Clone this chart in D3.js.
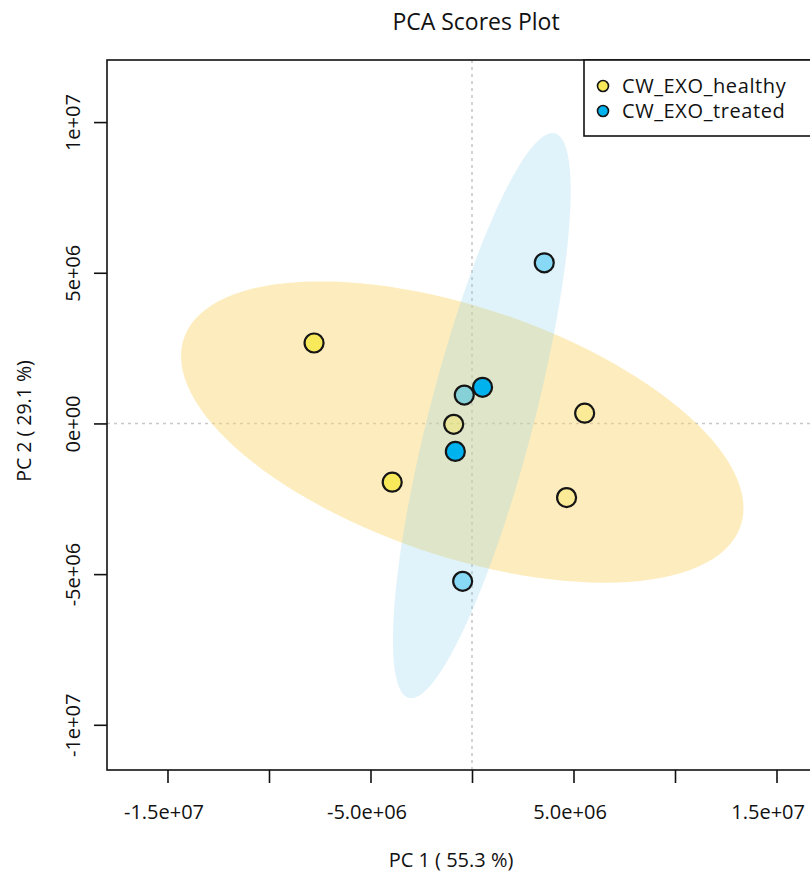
<!DOCTYPE html>
<html>
  <head>
    <meta charset="utf-8">
    <script src="https://cdn.jsdelivr.net/npm/d3@7"></script>
    <style>
      body { margin: 0; background: #fff; }
      text { font-family: "Open Sans", sans-serif; fill: #111; }
    </style>
  </head>
  <body>
    <script>
    // scores
    var groups = ["CW_EXO_healthy", "CW_EXO_treated"];
    var healthyPC1 = [-7.78e6, -3.93e6, -0.90e6, 5.55e6, 4.66e6];
    var healthyPC2 = [2.67e6, -1.95e6, -0.03e6, 0.34e6, -2.46e6];
    var treatedPC1 = [3.56e6, -0.46e6, -0.38e6, 0.52e6, -0.82e6];
    var treatedPC2 = [5.33e6, -5.24e6, 0.94e6, 1.20e6, -0.93e6];
    // some points are drawn solid, the rest with a see-through fill
    var healthySolid = [true, true, false, false, false];
    var treatedSolid = [false, false, false, true, true];

    var xTicks = [-1.5e7, -1e7, -5e6, 0, 5e6, 1e7, 1.5e7];
    var xTickLabels = ["-1.5e+07", "", "-5.0e+06", "", "5.0e+06", "", "1.5e+07"];
    var yTicks = [-1e7, -5e6, 0, 5e6, 1e7];
    var yTickLabels = ["-1e+07", "-5e+06", "0e+00", "5e+06", "1e+07"];
    var xDomain = [-1.798e7, 1.798e7];
    var yDomain = [-1.15e7, 1.206e7];
    var axisTitles = ["PC 1 ( 55.3 %)", "PC 2 ( 29.1 %)"];
    var title = "PCA Scores Plot";

    var width = 810, height = 872;
    var box = {left: 107, right: 837, top: 60, bottom: 770};
    var pointColors = ["#f8e95a", "#00b2ee"];
    var ellipseColors = ["#fbd66f", "#87ceeb"];
    var ellipseOpacity = [0.45, 0.25];

    var svg = d3.select("body").append("svg")
      .attr("width", width)
      .attr("height", height);

    var x = d3.scaleLinear().domain(xDomain).range([box.left, box.right]);
    var y = d3.scaleLinear().domain(yDomain).range([box.bottom, box.top]);

    svg.append("clipPath").attr("id", "plot-clip")
      .append("rect")
      .attr("x", box.left).attr("y", box.top)
      .attr("width", box.right - box.left).attr("height", box.bottom - box.top);

    var plot = svg.append("g").attr("clip-path", "url(#plot-clip)");

    var data = [
      {name: groups[0], xs: healthyPC1, ys: healthyPC2, solid: healthySolid, i: 0},
      {name: groups[1], xs: treatedPC1, ys: treatedPC2, solid: treatedSolid, i: 1}
    ];

    // 95% confidence ellipse, same construction as R's ellipse::ellipse
    function ellipsePoints(xs, ys) {
      var mx = d3.mean(xs), my = d3.mean(ys);
      var sx = d3.deviation(xs), sy = d3.deviation(ys);
      var cov = d3.sum(xs, function(v, k) { return (v - mx) * (ys[k] - my); }) / (xs.length - 1);
      var r = cov / (sx * sy);
      var d = Math.acos(r);
      var t = Math.sqrt(5.991465);
      return d3.range(120).map(function(k) {
        var a = k * 2 * Math.PI / 120;
        return [mx + t * sx * Math.cos(a + d / 2), my + t * sy * Math.cos(a - d / 2)];
      });
    }

    // zero lines
    plot.append("line")
      .attr("x1", x(0)).attr("x2", x(0))
      .attr("y1", box.top).attr("y2", box.bottom)
      .attr("stroke", "#c8c8c8").attr("stroke-width", 1.6)
      .attr("stroke-dasharray", "3,4");
    plot.append("line")
      .attr("x1", box.left).attr("x2", box.right)
      .attr("y1", y(0)).attr("y2", y(0))
      .attr("stroke", "#c8c8c8").attr("stroke-width", 1.6)
      .attr("stroke-dasharray", "3,4");

    var line = d3.line()
      .x(function(d) { return x(d[0]); })
      .y(function(d) { return y(d[1]); })
      .curve(d3.curveLinearClosed);

    plot.selectAll(".ellipse")
      .data(data)
      .enter()
      .append("path")
        .attr("class", "ellipse")
        .attr("d", function(g) { return line(ellipsePoints(g.xs, g.ys)); })
        .attr("fill", function(g) { return ellipseColors[g.i]; })
        .attr("fill-opacity", function(g) { return ellipseOpacity[g.i]; })
        .attr("stroke", "none");

    var pts = [];
    data.forEach(function(g) {
      g.xs.forEach(function(v, k) {
        pts.push({x: v, y: g.ys[k], i: g.i, solid: g.solid[k]});
      });
    });

    plot.selectAll(".pt")
      .data(pts)
      .enter()
      .append("circle")
        .attr("class", "pt")
        .attr("cx", function(d) { return x(d.x); })
        .attr("cy", function(d) { return y(d.y); })
        .attr("r", 9.5)
        .attr("fill", function(d) { return pointColors[d.i]; })
        .attr("fill-opacity", function(d) { return d.solid ? 1 : 0.4; })
        .attr("stroke", "#151515")
        .attr("stroke-width", 2.2);

    // frame
    svg.append("rect")
      .attr("x", box.left).attr("y", box.top)
      .attr("width", box.right - box.left).attr("height", box.bottom - box.top)
      .attr("fill", "none").attr("stroke", "#111").attr("stroke-width", 1.6);

    // axes
    var xAxis = d3.axisBottom(x)
      .tickValues(xTicks)
      .tickSize(13).tickSizeOuter(0).tickPadding(22)
      .tickFormat(function(d, k) { return xTickLabels[k]; });
    var gx = svg.append("g")
      .attr("transform", "translate(0," + box.bottom + ")")
      .call(xAxis);
    gx.select(".domain").remove();
    gx.selectAll("line").attr("stroke", "#111").attr("stroke-width", 1.6);
    gx.selectAll("text")
      .attr("font-size", "20px").attr("font-family", "Open Sans, sans-serif").attr("fill", "#111")
      .attr("dx", -4);
    // keep the last label inside the page
    gx.selectAll(".tick").each(function() {
      var t = d3.select(this).select("text");
      var b = t.node().getBoundingClientRect();
      if (b.right > width - 5) t.attr("dx", -4 - (b.right - (width - 5)));
    });

    var yAxis = d3.axisLeft(y)
      .tickValues(yTicks)
      .tickSize(13).tickSizeOuter(0)
      .tickFormat(function(d, k) { return yTickLabels[k]; });
    var gy = svg.append("g")
      .attr("transform", "translate(" + box.left + ",0)")
      .call(yAxis);
    gy.select(".domain").remove();
    gy.selectAll("line").attr("stroke", "#111").attr("stroke-width", 1.6);
    gy.selectAll("text")
      .attr("x", 0).attr("dy", 0)
      .attr("text-anchor", "middle")
      .attr("transform", "translate(-27,0) rotate(-90)")
      .attr("font-size", "20px").attr("font-family", "Open Sans, sans-serif").attr("fill", "#111");

    // titles
    svg.append("text")
      .attr("x", 476).attr("y", 30)
      .attr("text-anchor", "middle")
      .attr("font-size", "23px")
      .text(title);

    svg.append("text")
      .attr("x", 451).attr("y", 867)
      .attr("text-anchor", "middle")
      .attr("font-size", "20px")
      .text(axisTitles[0]);

    svg.append("text")
      .attr("transform", "translate(31,421) rotate(-90)")
      .attr("text-anchor", "middle")
      .attr("font-size", "19.5px")
      .text(axisTitles[1]);

    // legend
    var legend = svg.append("g");
    legend.append("rect")
      .attr("x", 584).attr("y", box.top)
      .attr("width", box.right - 584).attr("height", 76)
      .attr("fill", "#fff").attr("stroke", "#111").attr("stroke-width", 1.6);
    var items = legend.selectAll(".item")
      .data(groups)
      .enter()
      .append("g")
        .attr("class", "item")
        .attr("transform", function(d, k) { return "translate(603," + (86 + k * 25) + ")"; });
    items.append("circle")
      .attr("r", 5.5)
      .attr("fill", function(d, k) { return pointColors[k]; })
      .attr("stroke", "#151515").attr("stroke-width", 1.6);
    items.append("text")
      .attr("x", 19).attr("y", 7)
      .attr("font-size", "20px")
      .attr("letter-spacing", "0.6px")
      .text(function(d) { return d; });
    </script>
  </body>
</html>
